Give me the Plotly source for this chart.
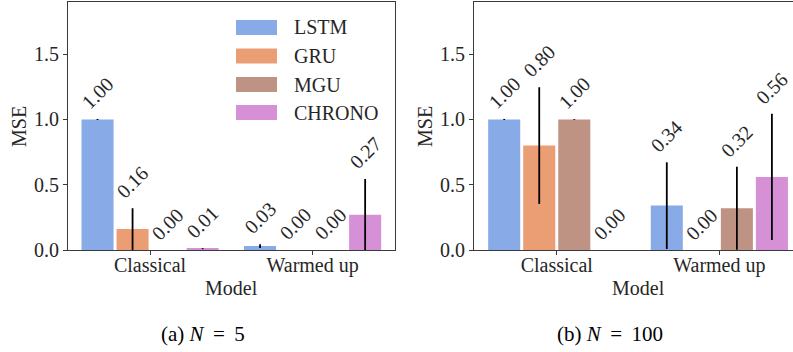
import plotly.graph_objects as go

# --- data -------------------------------------------------------------
models = ["LSTM", "GRU", "MGU", "CHRONO"]
settings = ["Classical", "Warmed up"]
colors = ["#88aae6", "#eb9d74", "#be9383", "#d691d6"]

# MSE per model for (Classical, Warmed up), N = 5
mse_n5 = {
    "LSTM": [1.00, 0.03],
    "GRU": [0.16, 0.00],
    "MGU": [0.00, 0.00],
    "CHRONO": [0.01, 0.27],
}
err_n5 = {
    "LSTM": [0.004, 0.014],
    "GRU": [0.16, 0.0],
    "MGU": [0.0, 0.0],
    "CHRONO": [0.004, 0.274],
}

# MSE per model for (Classical, Warmed up), N = 100
mse_n100 = {
    "LSTM": [1.00, 0.34],
    "GRU": [0.80, 0.00],
    "MGU": [1.00, 0.32],
    "CHRONO": [0.00, 0.56],
}
err_n100 = {
    "LSTM": [0.004, 0.332],
    "GRU": [0.447, 0.0],
    "MGU": [0.003, 0.318],
    "CHRONO": [0.0, 0.483],
}

captions = [
    "(a) <i>N</i> \u2009=\u2009 5",
    "(b) <i>N</i> \u2009=\u2009 100",
]
y_ticks = [0.0, 0.5, 1.0, 1.5]

# --- layout constants ---------------------------------------------------
W, H = 793, 352
ML, MR, MT, MB = 68, 0, 2, 102
PW, PH = W - ML - MR, H - MT - MB
FONT = "Liberation Serif"
TXT = "#262626"
LINE = "#3a3a3a"
FS = 20
BARGAP = 0.138
SLOT = (1 - BARGAP) / len(models)


def px_x(px):
    return (px - ML) / PW


def px_y(py):
    return (H - MB - py) / PH


fig = go.Figure()
annotations = []
shapes = []

panels = [
    (mse_n5, err_n5, "x", "y"),
    (mse_n100, err_n100, "x2", "y2"),
]

for mse, err, xa, ya in panels:
    for i, m in enumerate(models):
        fig.add_trace(
            go.Bar(
                x=list(range(len(settings))),
                y=mse[m],
                name=m,
                marker=dict(color=colors[i], line=dict(width=0)),
                error_y=dict(
                    type="data",
                    array=err[m],
                    symmetric=True,
                    color="black",
                    thickness=1.8,
                    width=0,
                ),
                xaxis=xa,
                yaxis=ya,
                showlegend=False,
            )
        )
        # rotated value labels above each bar / error bar
        for g in range(len(settings)):
            v = mse[m][g]
            top = v + err[m][g]
            annotations.append(
                dict(
                    x=g + (i - 1.5) * SLOT,
                    y=top,
                    xref=xa,
                    yref=ya,
                    text=f"{v:.2f}",
                    textangle=-45,
                    showarrow=False,
                    xanchor="center",
                    yanchor="bottom",
                    yshift=3,
                    font=dict(family=FONT, size=FS, color=TXT),
                )
            )

axis_common = dict(
    showline=True,
    linecolor=LINE,
    linewidth=1.2,
    ticks="outside",
    ticklen=4,
    tickwidth=1,
    tickcolor=LINE,
    showgrid=False,
    zeroline=False,
    tickfont=dict(family=FONT, size=FS, color=TXT),
)

fig.update_layout(
    width=W,
    height=H,
    margin=dict(l=ML, r=MR, t=MT, b=MB, pad=0),
    paper_bgcolor="white",
    plot_bgcolor="white",
    barmode="group",
    bargap=BARGAP,
    bargroupgap=0.085,
    xaxis=dict(
        domain=[0, px_x(395)],
        range=[-0.505, 1.507],
        tickvals=list(range(len(settings))),
        ticktext=settings,
        mirror=True,
        anchor="y",
        ticklabelstandoff=-7,
        **axis_common,
    ),
    yaxis=dict(
        domain=[0, 1],
        range=[0, 1.9],
        tickvals=y_ticks,
        tickformat=".1f",
        mirror=True,
        anchor="x",
        **axis_common,
    ),
    xaxis2=dict(
        domain=[px_x(474), 1],
        range=[-0.509, 1.453],
        tickvals=list(range(len(settings))),
        ticktext=settings,
        mirror=True,
        anchor="y2",
        ticklabelstandoff=-7,
        **axis_common,
    ),
    yaxis2=dict(
        domain=[0, 1],
        range=[0, 1.9],
        tickvals=y_ticks,
        tickformat=".1f",
        mirror=False,
        anchor="x2",
        **axis_common,
    ),
)

# axis titles
for cx in (19, 425):
    annotations.append(
        dict(
            x=px_x(cx), y=px_y(127), xref="paper", yref="paper",
            text="MSE", textangle=-90, showarrow=False,
            xanchor="center", yanchor="middle",
            font=dict(family=FONT, size=FS, color=TXT),
        )
    )
for cx in (231.5, 638):
    annotations.append(
        dict(
            x=px_x(cx), y=px_y(288), xref="paper", yref="paper",
            text="Model", showarrow=False,
            xanchor="center", yanchor="middle",
            font=dict(family=FONT, size=FS, color=TXT),
        )
    )

# sub-figure captions
for cx, cap in zip((203, 610), captions):
    annotations.append(
        dict(
            x=px_x(cx), y=px_y(334), xref="paper", yref="paper",
            text=cap, showarrow=False,
            xanchor="center", yanchor="middle",
            font=dict(family=FONT, size=21, color="black"),
        )
    )

# legend inside the first panel (large colour patches)
row_centres = [27.5, 56, 84.5, 112.5]
for name, col, cy in zip(models, colors, row_centres):
    shapes.append(
        dict(
            type="rect", xref="paper", yref="paper",
            x0=px_x(236), x1=px_x(277), y0=px_y(cy + 7.5), y1=px_y(cy - 7.5),
            fillcolor=col, line=dict(width=0),
        )
    )
    annotations.append(
        dict(
            x=px_x(292), y=px_y(cy), xref="paper", yref="paper",
            text=name, showarrow=False,
            xanchor="left", yanchor="middle",
            font=dict(family=FONT, size=FS, color=TXT),
        )
    )

fig.update_layout(annotations=annotations, shapes=shapes)
fig.write_html("out.html")
